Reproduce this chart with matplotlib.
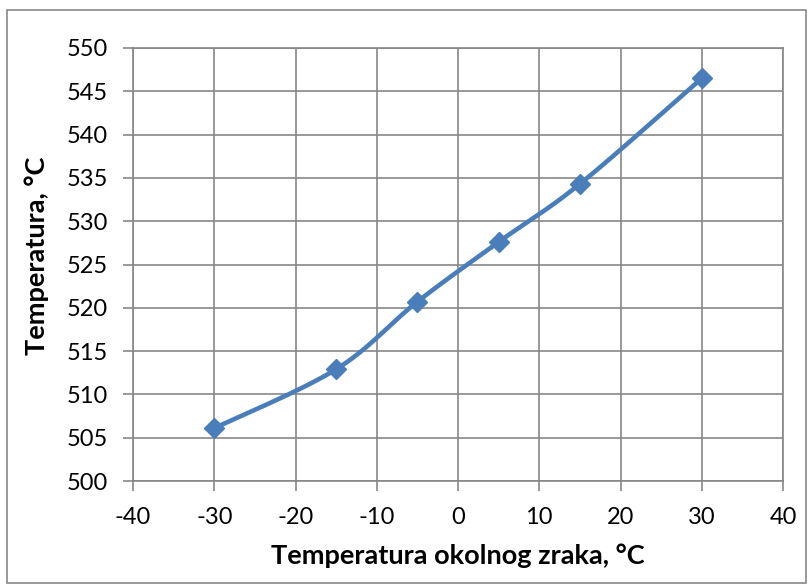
import numpy as np
import matplotlib
matplotlib.use("Agg")
import matplotlib.pyplot as plt
from matplotlib.patches import Rectangle

# Ambient air temperature vs. temperature
ambient = [-30, -15, -5, 5, 15, 30]
temperature = [506.1, 512.9, 520.7, 527.6, 534.3, 546.5]
x_ticks = [-40, -30, -20, -10, 0, 10, 20, 30, 40]
y_ticks = [500, 505, 510, 515, 520, 525, 530, 535, 540, 545, 550]

plt.rcParams['font.family'] = ['Lato', 'DejaVu Sans']
plt.rcParams['axes.unicode_minus'] = False


def smooth_curve(xs, ys, n=40):
    """Piecewise cubic Bezier through the points (Catmull-Rom style tangents)."""
    pts = np.column_stack([xs, ys]).astype(float)
    out = []
    m = len(pts)
    for i in range(m - 1):
        p0 = pts[i - 1] if i > 0 else pts[i]
        p1 = pts[i]
        p2 = pts[i + 1]
        p3 = pts[i + 2] if i + 2 < m else pts[i + 1]
        c1 = p1 + (p2 - p0) / 6.0
        c2 = p2 - (p3 - p1) / 6.0
        t = np.linspace(0, 1, n)[:, None]
        seg = ((1 - t) ** 3) * p1 + 3 * ((1 - t) ** 2) * t * c1 + 3 * (1 - t) * t ** 2 * c2 + t ** 3 * p2
        out.append(seg if i == 0 else seg[1:])
    arr = np.vstack(out)
    return arr[:, 0], arr[:, 1]


fig = plt.figure(figsize=(8.1, 5.88), dpi=100)
fig.patches.append(Rectangle((7 / 810, 5 / 588), 799 / 810, 573 / 588, transform=fig.transFigure,
                             fill=False, edgecolor='#888888', linewidth=1.2))

ax = fig.add_axes([133 / 810, 107 / 588, 650 / 810, 433 / 588])
grid_c = '#878787'
ax.set_xlim(-40, 40)
ax.set_ylim(500, 550)
ax.set_xticks(x_ticks)
ax.set_yticks(y_ticks)
ax.grid(True, color=grid_c, linewidth=1.2)
ax.set_axisbelow(True)
for s in ax.spines.values():
    s.set_color(grid_c)
    s.set_linewidth(1.2)
ax.tick_params(axis='both', direction='out', length=7, width=1.2, color=grid_c,
               labelsize=17, labelcolor='black')
ax.tick_params(axis='x', pad=12)
ax.tick_params(axis='y', pad=11)

sx, sy = smooth_curve(ambient, temperature)
ax.plot(sx, sy, color='#4A7EBB', linewidth=3.3, solid_capstyle='round', zorder=3)
ax.plot(ambient, temperature, linestyle='none', marker='D', markersize=10,
        color='#4A7EBB', zorder=4)

ax.set_xlabel('Temperatura okolnog zraka, °C', fontsize=19.5, fontweight='bold')
ax.set_ylabel('Temperatura, °C', fontsize=19.5, fontweight='bold')
ax.xaxis.set_label_coords(0.5, (481 - 556) / 433)
ax.xaxis.label.set_va('center')
ax.yaxis.set_label_coords((37 - 133) / 650, 0.52)
ax.yaxis.label.set_va('center')

fig.savefig('out.png', dpi=100)
